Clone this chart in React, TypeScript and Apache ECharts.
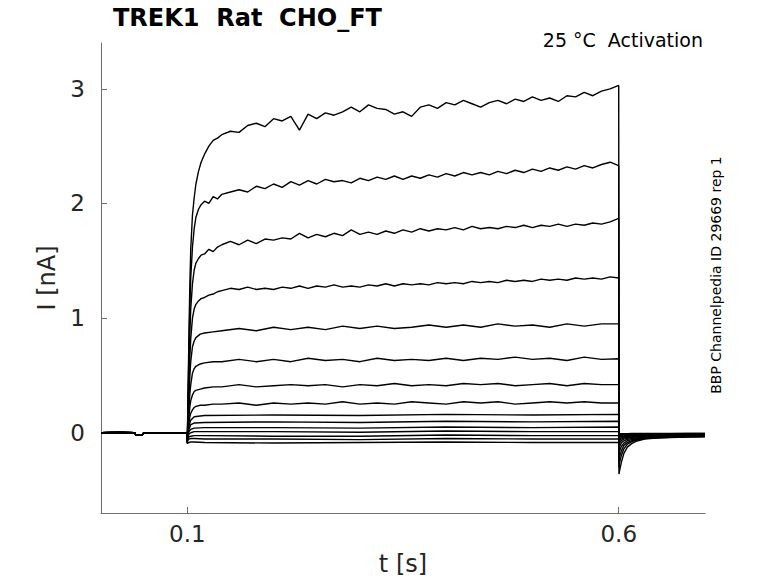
import React, { useEffect, useRef } from "react";
import * as echarts from "echarts";

// ---- Data (time in s, current in nA) ----
const xTicks = [0.1, 0.6];
const yTicks = [0, 1, 2, 3];

const tBase = [0, 0.02, 0.039, 0.0405, 0.048, 0.0495, 0.07, 0.0995];
const vBase = [0, 0.002, 0, -0.018, -0.018, 0, -0.002, 0];

const tDense = [
  0.1, 0.1005, 0.101, 0.102, 0.103, 0.104, 0.106, 0.108, 0.11, 0.113, 0.116, 0.12, 0.125, 0.13, 0.135,
  0.14, 0.15, 0.16, 0.17, 0.18, 0.19, 0.2, 0.21, 0.22, 0.23, 0.24, 0.25, 0.26, 0.27, 0.28, 0.29, 0.3,
  0.31, 0.32, 0.33, 0.34, 0.35, 0.36, 0.37, 0.38, 0.39, 0.4, 0.41, 0.42, 0.43, 0.44, 0.45, 0.46, 0.47,
  0.48, 0.49, 0.5, 0.51, 0.52, 0.53, 0.54, 0.55, 0.56, 0.57, 0.58, 0.59, 0.6,
];
const tMed = [
  0.1, 0.1005, 0.101, 0.102, 0.103, 0.104, 0.106, 0.108, 0.11, 0.115, 0.12, 0.13,
  0.14, 0.16, 0.18, 0.2, 0.22, 0.24, 0.26, 0.28, 0.3, 0.32, 0.34, 0.36, 0.38, 0.4, 0.42, 0.44, 0.46,
  0.48, 0.5, 0.52, 0.54, 0.56, 0.58, 0.6,
];
const tSparse = [0.1, 0.1005, 0.102, 0.104, 0.108, 0.12, 0.2, 0.3, 0.4, 0.5, 0.6];
const tTail = [0.6003, 0.601, 0.603, 0.606, 0.61, 0.615, 0.62, 0.63, 0.64, 0.66, 0.68, 0.7];

const trace1 = [
  -0.08, 0.15, 0.4, 0.9, 1.3, 1.6, 1.9, 2.05, 2.17, 2.28, 2.36, 2.43, 2.5, 2.55, 2.57,
  2.6, 2.63, 2.62, 2.68, 2.7, 2.67, 2.74, 2.72, 2.76, 2.64, 2.78, 2.74, 2.79, 2.77, 2.8, 2.84, 2.8,
  2.86, 2.83, 2.82, 2.78, 2.8, 2.76, 2.84, 2.86, 2.83, 2.88, 2.86, 2.9, 2.87, 2.84, 2.88, 2.9, 2.87,
  2.91, 2.89, 2.93, 2.9, 2.92, 2.89, 2.94, 2.93, 2.97, 2.94, 2.98, 3.0, 3.03,
];
const trace2 = [
  -0.08, 0.12, 0.35, 0.75, 1.1, 1.35, 1.62, 1.78, 1.88, 1.95, 1.99, 2.02, 2.0, 2.06, 2.04,
  2.08, 2.1, 2.12, 2.1, 2.15, 2.13, 2.17, 2.14, 2.19, 2.16, 2.2, 2.17, 2.21, 2.19, 2.2, 2.18, 2.22,
  2.2, 2.23, 2.21, 2.24, 2.21, 2.24, 2.22, 2.25, 2.23, 2.26, 2.24, 2.27, 2.25, 2.27, 2.25, 2.28, 2.26,
  2.29, 2.27, 2.3, 2.28, 2.31, 2.29, 2.32, 2.3, 2.33, 2.31, 2.34, 2.36, 2.33,
];
const trace3 = [
  -0.08, 0.1, 0.28, 0.6, 0.88, 1.08, 1.3, 1.42, 1.48, 1.52, 1.55, 1.56, 1.6, 1.58, 1.62,
  1.64, 1.67, 1.64, 1.68, 1.65, 1.69, 1.68, 1.7, 1.69, 1.74, 1.7, 1.73, 1.71, 1.74, 1.72, 1.77, 1.73,
  1.75, 1.73, 1.76, 1.74, 1.77, 1.75, 1.78, 1.76, 1.78, 1.77, 1.79, 1.77, 1.8, 1.78, 1.79, 1.78, 1.8,
  1.79, 1.81, 1.79, 1.81, 1.8, 1.82, 1.8, 1.82, 1.81, 1.83, 1.82, 1.84, 1.87,
];
const trace4 = [
  -0.08, 0.07, 0.2, 0.45, 0.66, 0.82, 1.0, 1.08, 1.12, 1.15, 1.17, 1.18, 1.2, 1.21, 1.23,
  1.24, 1.26, 1.25, 1.27, 1.25, 1.26, 1.25, 1.27, 1.26, 1.28, 1.26, 1.28, 1.27, 1.29, 1.27, 1.28, 1.27,
  1.29, 1.28, 1.3, 1.28, 1.3, 1.29, 1.3, 1.29, 1.31, 1.3, 1.31, 1.3, 1.32, 1.31, 1.32, 1.31, 1.33,
  1.32, 1.33, 1.32, 1.34, 1.33, 1.34, 1.33, 1.35, 1.34, 1.35, 1.34, 1.36, 1.35,
];
const trace5 = [
  -0.08, 0.05, 0.15, 0.33, 0.5, 0.62, 0.75, 0.8, 0.83, 0.86, 0.87, 0.88,
  0.89, 0.91, 0.89, 0.92, 0.9, 0.92, 0.9, 0.93, 0.91, 0.93, 0.91, 0.92, 0.94, 0.92, 0.94, 0.92, 0.95,
  0.93, 0.94, 0.92, 0.95, 0.93, 0.95, 0.95,
];
const trace6 = [
  -0.08, 0.03, 0.1, 0.22, 0.34, 0.42, 0.52, 0.56, 0.58, 0.6, 0.61, 0.62,
  0.62, 0.64, 0.62, 0.64, 0.62, 0.65, 0.63, 0.64, 0.62, 0.65, 0.63, 0.64, 0.63, 0.65, 0.63, 0.65, 0.64,
  0.66, 0.64, 0.65, 0.63, 0.66, 0.64, 0.645,
];
const trace7 = [
  -0.08, 0.02, 0.07, 0.15, 0.23, 0.28, 0.33, 0.36, 0.37, 0.38, 0.39, 0.4,
  0.4, 0.42, 0.4, 0.41, 0.42, 0.41, 0.42, 0.4, 0.42, 0.41, 0.43, 0.41, 0.42, 0.41, 0.43, 0.42, 0.43,
  0.41, 0.42, 0.43, 0.41, 0.43, 0.42, 0.42,
];
const trace8 = [
  -0.08, 0.01, 0.04, 0.09, 0.14, 0.17, 0.2, 0.22, 0.23, 0.24, 0.24, 0.25,
  0.25, 0.26, 0.24, 0.26, 0.25, 0.26, 0.25, 0.27, 0.25, 0.26, 0.25, 0.27, 0.26, 0.25, 0.27, 0.26, 0.27,
  0.25, 0.26, 0.27, 0.26, 0.27, 0.26, 0.26,
];
const trace9 = [-0.08, 0.0, 0.06, 0.11, 0.14, 0.15, 0.155, 0.15, 0.16, 0.155, 0.16];
const trace10 = [-0.08, -0.01, 0.03, 0.07, 0.085, 0.09, 0.095, 0.09, 0.1, 0.095, 0.1];
const trace11 = [-0.08, -0.02, 0.01, 0.03, 0.04, 0.045, 0.045, 0.04, 0.05, 0.045, 0.05];
const trace12 = [-0.08, -0.03, -0.01, 0.0, 0.01, 0.01, 0.01, 0.005, 0.015, 0.01, 0.01];
const trace13 = [-0.085, -0.05, -0.035, -0.03, -0.025, -0.025, -0.03, -0.03, -0.02, -0.025, -0.025];
const trace14 = [-0.09, -0.065, -0.055, -0.05, -0.05, -0.055, -0.055, -0.06, -0.05, -0.055, -0.055];
const trace15 = [-0.095, -0.09, -0.085, -0.08, -0.08, -0.085, -0.09, -0.085, -0.08, -0.085, -0.085];

const tail1 = [-0.36, -0.33, -0.26, -0.18, -0.125, -0.095, -0.075, -0.055, -0.048, -0.042, -0.038, -0.035];
const tail2 = [-0.3, -0.26, -0.2, -0.14, -0.1, -0.08, -0.065, -0.05, -0.045, -0.04, -0.036, -0.033];
const tail3 = [-0.25, -0.21, -0.16, -0.11, -0.085, -0.07, -0.058, -0.047, -0.042, -0.038, -0.034, -0.031];
const tail4 = [-0.2, -0.16, -0.12, -0.09, -0.07, -0.06, -0.052, -0.044, -0.04, -0.036, -0.032, -0.03];
const tail5 = [-0.15, -0.12, -0.09, -0.07, -0.058, -0.05, -0.045, -0.04, -0.037, -0.033, -0.03, -0.028];
const tail6 = [-0.11, -0.09, -0.07, -0.055, -0.048, -0.042, -0.038, -0.035, -0.032, -0.03, -0.027, -0.025];
const tail7 = [-0.08, -0.07, -0.055, -0.045, -0.04, -0.036, -0.033, -0.03, -0.028, -0.026, -0.024, -0.022];
const tail8 = [-0.06, -0.055, -0.045, -0.038, -0.034, -0.031, -0.029, -0.027, -0.025, -0.023, -0.021, -0.02];
const tail9 = [-0.045, -0.04, -0.035, -0.03, -0.028, -0.026, -0.025, -0.023, -0.021, -0.02, -0.018, -0.017];
const tail10 = [-0.035, -0.032, -0.028, -0.025, -0.023, -0.022, -0.021, -0.02, -0.018, -0.017, -0.016, -0.015];
const tail11 = [-0.028, -0.026, -0.023, -0.021, -0.02, -0.019, -0.018, -0.017, -0.016, -0.015, -0.014, -0.013];
const tail12 = [-0.022, -0.02, -0.018, -0.017, -0.016, -0.015, -0.015, -0.014, -0.013, -0.012, -0.012, -0.011];
const tail13 = [-0.018, -0.016, -0.015, -0.014, -0.013, -0.012, -0.012, -0.011, -0.01, -0.01, -0.009, -0.009];
const tail14 = [-0.014, -0.013, -0.012, -0.011, -0.01, -0.01, -0.009, -0.009, -0.008, -0.008, -0.007, -0.007];
const tail15 = [-0.01, -0.009, -0.009, -0.008, -0.008, -0.007, -0.007, -0.006, -0.006, -0.005, -0.005, -0.005];

const traces: [number[], number[], number[]][] = [
  [tDense, trace1, tail1],
  [tDense, trace2, tail2],
  [tDense, trace3, tail3],
  [tDense, trace4, tail4],
  [tMed, trace5, tail5],
  [tMed, trace6, tail6],
  [tMed, trace7, tail7],
  [tMed, trace8, tail8],
  [tSparse, trace9, tail9],
  [tSparse, trace10, tail10],
  [tSparse, trace11, tail11],
  [tSparse, trace12, tail12],
  [tSparse, trace13, tail13],
  [tSparse, trace14, tail14],
  [tSparse, trace15, tail15],
];

const zip = (ts: number[], vs: number[]) => {
  const n = Math.min(ts.length, vs.length);
  const out: [number, number][] = [];
  for (let i = 0; i < n; i++) out.push([ts[i], vs[i]]);
  return out;
};

const FONT = "DejaVu Sans";
const AXIS_COLOR = "#6e6e6e";
const LABEL_COLOR = "#262626";

export default function App() {
  const ref = useRef<HTMLDivElement>(null);

  useEffect(() => {
    if (!ref.current) return;
    const chart = echarts.init(ref.current, undefined, { renderer: "svg" });
    const base = zip(tBase, vBase);
    const series = traces.map(([t, v, tail], i) => ({
      type: "line",
      name: "trace" + (i + 1),
      data: [...base, ...zip(t, v), ...zip(tTail, tail)],
      showSymbol: false,
      symbol: "none",
      silent: true,
      clip: true,
      lineStyle: { color: "#000", width: 1.4 },
      z: 2,
    }));

    chart.setOption({
      animation: false,
      textStyle: { fontFamily: FONT },
      grid: { left: 101, right: 73, top: 43, bottom: 70, containLabel: false },
      xAxis: {
        type: "value",
        min: 0,
        max: 0.7,
        name: "t [s]",
        nameLocation: "middle",
        nameGap: 39,
        nameTextStyle: { fontSize: 24, color: LABEL_COLOR, fontFamily: FONT },
        axisLine: { show: true, onZero: false, lineStyle: { color: AXIS_COLOR, width: 1 } },
        axisTick: { show: true, inside: true, length: 6, customValues: xTicks, lineStyle: { color: AXIS_COLOR } },
        axisLabel: {
          customValues: xTicks,
          fontSize: 23,
          color: LABEL_COLOR,
          margin: 9,
          fontFamily: FONT,
          formatter: (v: number) => String(v),
        },
        splitLine: { show: false },
      },
      yAxis: {
        type: "value",
        min: -0.7,
        max: 3.4,
        name: "I [nA]",
        nameLocation: "middle",
        nameGap: 37,
        nameTextStyle: { fontSize: 24, color: LABEL_COLOR, fontFamily: FONT },
        axisLine: { show: true, onZero: false, lineStyle: { color: AXIS_COLOR, width: 1 } },
        axisTick: { show: true, inside: true, length: 6, customValues: yTicks, lineStyle: { color: AXIS_COLOR } },
        axisLabel: {
          customValues: yTicks,
          fontSize: 23,
          color: LABEL_COLOR,
          margin: 16,
          fontFamily: FONT,
          formatter: (v: number) => String(v),
        },
        splitLine: { show: false },
      },
      graphic: [
        {
          type: "text",
          x: 113,
          y: 18,
          style: {
            text: "TREK1  Rat  CHO_FT",
            fontSize: 24,
            fontWeight: "bold",
            fontFamily: FONT,
            fill: "#000",
            align: "left",
            verticalAlign: "middle",
          },
        },
        {
          type: "text",
          x: 703,
          y: 40,
          style: {
            text: "25 °C  Activation",
            fontSize: 19,
            fontFamily: FONT,
            fill: "#000",
            align: "right",
            verticalAlign: "middle",
          },
        },
        {
          type: "text",
          x: 716,
          y: 275,
          rotation: Math.PI / 2,
          style: {
            text: "BBP Channelpedia ID 29669 rep 1",
            fontSize: 14,
            fontFamily: FONT,
            fill: "#000",
            align: "center",
            verticalAlign: "middle",
          },
        },
      ],
      series,
    });

    return () => {
      chart.dispose();
    };
  }, []);

  return (
    <div
      ref={ref}
      style={{ position: "fixed", left: 0, top: 0, width: 778, height: 583, background: "#fff" }}
    />
  );
}
